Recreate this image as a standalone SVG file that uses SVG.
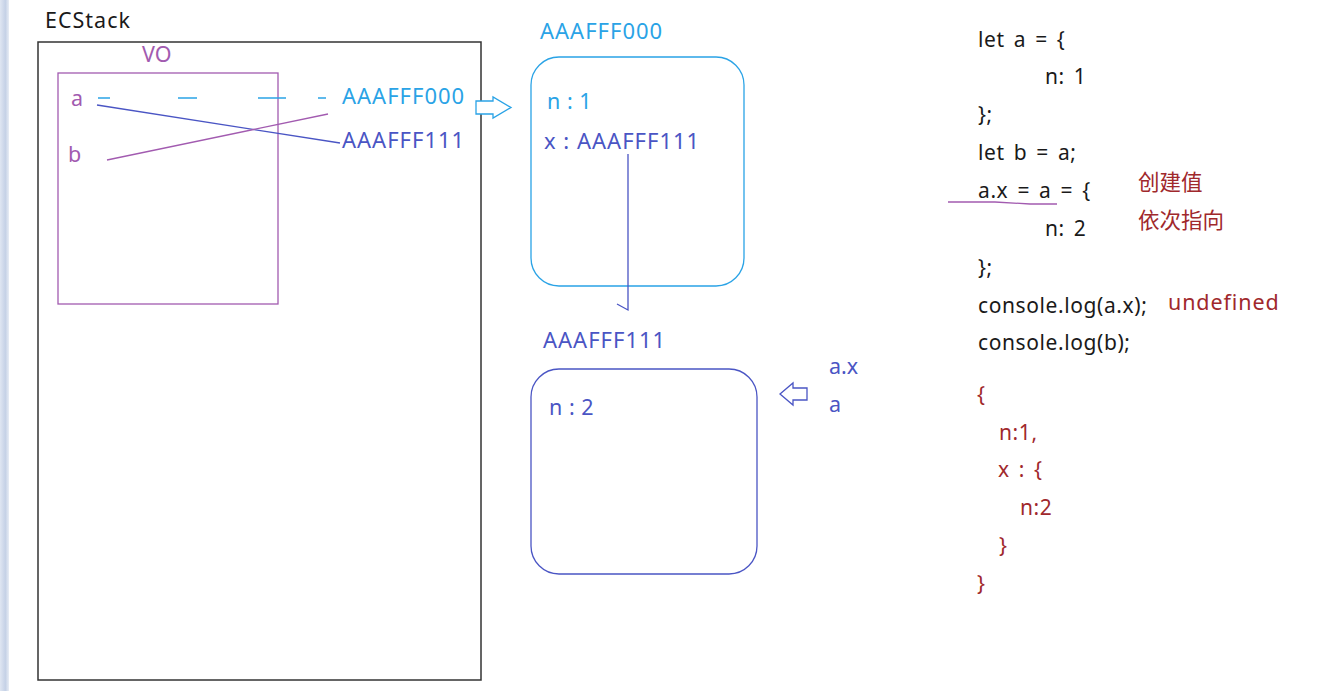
<svg xmlns="http://www.w3.org/2000/svg" width="1325" height="691" viewBox="0 0 1325 691">
<defs>
<linearGradient id="strip" x1="0" y1="0" x2="1" y2="0">
<stop offset="0" stop-color="#dfe6f2"/><stop offset="0.6" stop-color="#c5d1e6"/><stop offset="1" stop-color="#e8edf5"/>
</linearGradient>
</defs>
<style>
text{font-family:"Noto Sans","Noto Sans CJK SC",sans-serif;font-size:21.5px}
.blk{fill:#1a1a1a}
.pur{fill:#a25bb0}
.cyn{fill:#2aa3e6}
.blu{fill:#4a55c4}
.red{fill:#a0282c}
.code{font-size:21px;letter-spacing:0.6px;word-spacing:3px}
.lbl{font-size:22px;letter-spacing:1px}
</style>
<rect width="1325" height="691" fill="#ffffff"/>
<rect x="0" y="0" width="9" height="691" fill="url(#strip)"/>

<g id="ecstack">
<rect x="38" y="42" width="443" height="638" fill="none" stroke="#333" stroke-width="1.5"/>
<text x="45" y="28" class="blk" font-size="21" letter-spacing="1">ECStack</text>
</g>

<g id="vo">
<rect x="58" y="73" width="220" height="231" fill="none" stroke="#a25bb0" stroke-width="1.3"/>
<text x="142" y="62" class="pur">VO</text>
<text x="71" y="106" class="pur">a</text>
<text x="68" y="162" class="pur">b</text>
</g>

<g id="labels-heap-refs">
<text x="342" y="104" class="cyn lbl">AAAFFF000</text>
<text x="342" y="148" class="blu lbl">AAAFFF111</text>
</g>

<g id="obj1">
<rect x="531" y="57" width="213" height="229" rx="28" ry="28" fill="none" stroke="#2aa3e6" stroke-width="1.3"/>
<text x="540" y="39" class="cyn lbl">AAAFFF000</text>
<text x="547" y="109" class="cyn" letter-spacing="0.5">n : 1</text>
<text x="544" y="149" class="blu lbl">x : AAAFFF111</text>
</g>

<g id="obj2">
<rect x="531" y="369" width="226" height="205" rx="28" ry="28" fill="none" stroke="#4a55c4" stroke-width="1.3"/>
<text x="543" y="348" class="blu lbl">AAAFFF111</text>
<text x="549" y="415" class="blu" letter-spacing="0.5">n : 2</text>
</g>

<g id="pointer-labels">
<text x="829" y="374" class="blu">a.x</text>
<text x="829" y="412" class="blu">a</text>
</g>

<g id="code">
<text x="978" y="47" class="blk code">let a = {</text>
<text x="1045" y="84" class="blk code">n: 1</text>
<text x="978" y="122" class="blk code">};</text>
<text x="978" y="160" class="blk code">let b = a;</text>
<text x="978" y="198" class="blk code">a.x = a = {</text>
<text x="1045" y="236" class="blk code">n: 2</text>
<text x="978" y="275" class="blk code">};</text>
<text x="978" y="313" class="blk code">console.log(a.x);</text>
<text x="978" y="350" class="blk code">console.log(b);</text>
<text x="1138" y="190" class="red">创建值</text>
<text x="1138" y="228" class="red">依次指向</text>
<text x="1168" y="310" class="red" letter-spacing="0.9">undefined</text>
</g>

<g id="result">
<text x="977" y="402" class="red code">{</text>
<text x="999" y="440" class="red code">n:1,</text>
<text x="998" y="477" class="red code">x : {</text>
<text x="1020" y="515" class="red code">n:2</text>
<text x="999" y="553" class="red code">}</text>
<text x="977" y="591" class="red code">}</text>
</g>

<g id="connectors" fill="none" stroke-width="1.3">
<g stroke="#2aa3e6" stroke-width="1.5">
<line x1="98" y1="98" x2="110" y2="98"/>
<line x1="178" y1="98" x2="197" y2="98"/>
<line x1="258" y1="98" x2="286" y2="98"/>
<line x1="318" y1="98" x2="326" y2="98"/>
</g>
<line x1="97" y1="105" x2="340" y2="143" stroke="#4a55c4"/>
<line x1="107" y1="160" x2="328" y2="114" stroke="#a25bb0"/>
<path d="M476,101 H493 V97 L511,107.5 L493,118 V114 H476 Z" stroke="#2aa3e6" fill="#fff"/>
<path d="M628,154 V310 L617,304" stroke="#4a55c4"/>
<path d="M807,388 H793 V383 L780,394 L793,405 V400 H807 Z" stroke="#4a55c4" fill="#fff"/>
<path d="M948,202 H995 L1030,204 H1057" stroke="#a25bb0"/>
</g>
</svg>
